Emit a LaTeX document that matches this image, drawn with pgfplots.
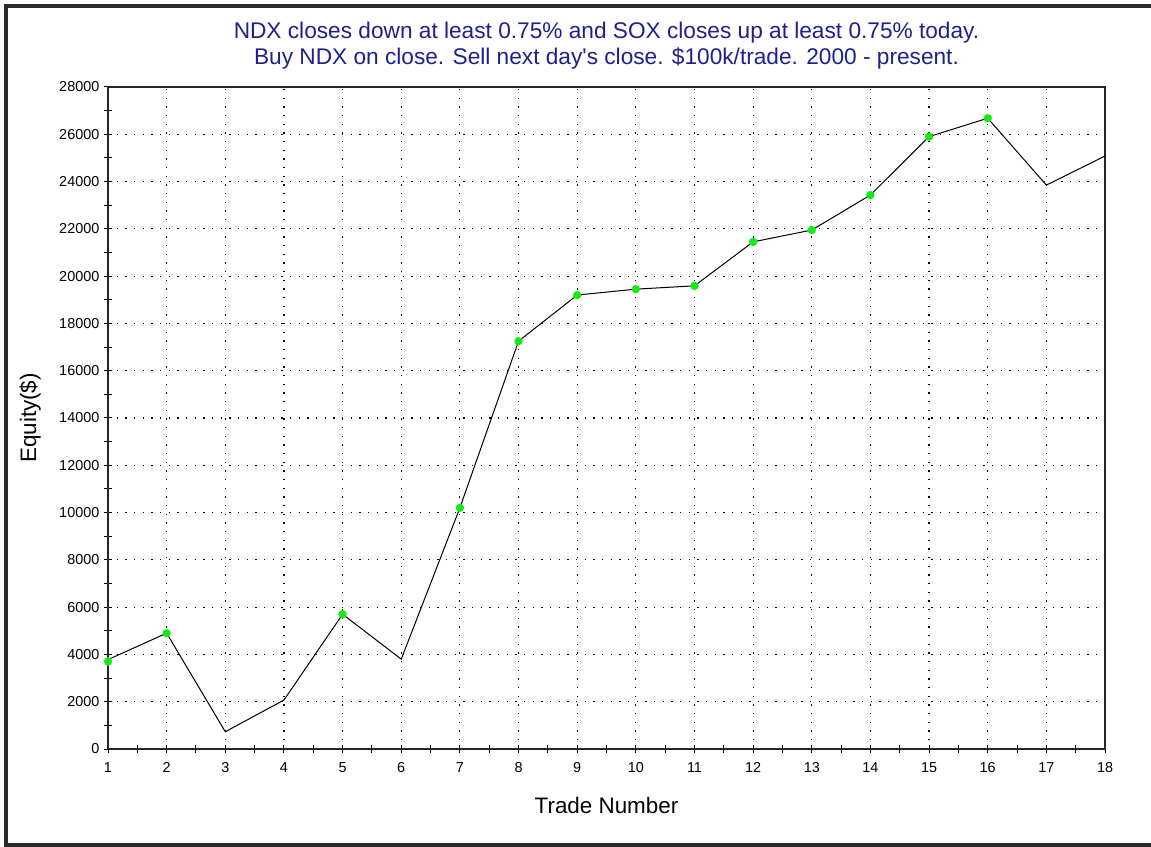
\documentclass[border=0pt]{standalone}
\usepackage{pgfplots}
\pgfplotsset{compat=1.18}
\usepackage{fontspec}
\setmainfont{Liberation Sans}
\definecolor{titleblue}{RGB}{32,32,140}
\definecolor{framegray}{RGB}{42,42,42}
\definecolor{wingreen}{RGB}{20,235,20}
\begin{document}
\begin{tikzpicture}[x=0.75pt,y=0.75pt]
\path[use as bounding box] (0,0) rectangle (1151,846);
\draw[framegray, line width=3pt] (5.5,1.5) -- (5.5,840) -- (1151,840);
\draw[framegray, line width=3pt] (3.5,1.5) -- (1151,1.5);
\begin{axis}[
  at={(81pt,72.75pt)}, anchor=south west,
  scale only axis, width=747.75pt, height=496.5pt,
  xmin=1, xmax=18, ymin=0, ymax=28000,
  xtick={1,...,18}, ytick={0,2000,...,28000},
  minor x tick num=1, minor y tick num=1,
  xtick pos=bottom, ytick pos=left,
  tick align=center,
  major tick length=6pt, minor tick length=6pt,
  every tick/.style={black, line width=0.75pt},
  scaled y ticks=false,
  /pgf/number format/set thousands separator={},
  /pgf/number format/assume math mode=true,
  tick label style={font=\fontsize{10.8}{12}\selectfont},
  xticklabel style={yshift=-3.5pt},
  axis line style={line width=1pt, black!85},
  grid=major,
  major grid style={black, line width=0.9pt, dash pattern=on 0.9pt off 5.6pt},
  xlabel={Trade Number}, ylabel={Equity(\$)},
  label style={font=\fontsize{16.8}{20}\selectfont},
  xlabel style={at={(axis description cs:0.5,-0.0846)}, anchor=center},
  ylabel style={at={(axis description cs:-0.078,0.5)}, anchor=center},
  title={NDX closes down at least 0.75\% and SOX closes up at least 0.75\% today.\\Buy NDX on close. Sell next day\textquotesingle s close. \$100k/trade. 2000 - present.},
  title style={at={(axis description cs:0.5,1.0506)}, anchor=center, yshift=0pt, align=center,
    text=titleblue, font=\fontsize{17}{19.5}\selectfont},
]
\addplot[black, line width=0.75pt, mark=none] coordinates {
  (1,3780) (2,4900) (3,730) (4,2070) (5,5700) (6,3800) (7,10200) (8,17250)
  (9,19200) (10,19450) (11,19590) (12,21450) (13,21950) (14,23430)
  (15,25900) (16,26680) (17,23850) (18,25080)
};
\addplot[only marks, mark=*, mark size=2.9pt, wingreen, mark options={draw=wingreen, fill=wingreen}] coordinates {
  (1,3700) (2,4900) (5,5700) (7,10200) (8,17250)
  (9,19200) (10,19450) (11,19590) (12,21450) (13,21950) (14,23430)
  (15,25900) (16,26680)
};
\end{axis}
\end{tikzpicture}
\end{document}
